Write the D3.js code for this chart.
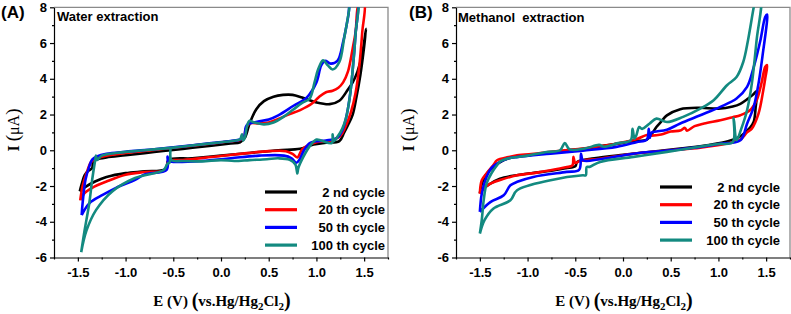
<!DOCTYPE html>
<html>
<head>
<meta charset="utf-8">
<script src="https://cdn.jsdelivr.net/npm/d3@7"></script>
<style>
  body { margin: 0; background: #fff; }
  svg { display: block; }
</style>
</head>
<body>
<div id="chart"></div>
<script>

// ---- data (E in V, I in µA), each cycle: anodic sweep then reverse sweep ----
const xTicks = [-1.5, -1.0, -0.5, 0.0, 0.5, 1.0, 1.5];
const xMinorTicks = [-1.75, -1.25, -0.75, -0.25, 0.25, 0.75, 1.25, 1.75];
const yTicks = [-6, -4, -2, 0, 2, 4, 6, 8];
const yMinorTicks = [-5, -3, -1, 1, 3, 5, 7];
const cycleLabels = ["2 nd cycle", "20 th cycle", "50 th cycle", "100 th cycle"];
const panelTitles = ["Water extraction", "Methanol  extraction"];
const panelTags = ["(A)", "(B)"];

const waterCycle2 = [
  [-1.48,-2.3],[-1.46,-1.9],[-1.43,-1.4],[-1.39,-1.15],[-1.35,-1.0],[-1.34,-0.6],[-1.3,-0.5],
  [-1.2,-0.4],[-1.0,-0.28],[-0.7,-0.1],[-0.4,0.08],[-0.1,0.25],[0.1,0.38],[0.2,0.45],[0.25,0.7],
  [0.3,1.5],[0.37,2.3],[0.45,2.75],[0.55,3.0],[0.65,3.1],[0.75,3.1],[0.85,2.95],[1.0,2.68],
  [1.14,2.58],[1.24,2.77],[1.33,3.4],[1.38,3.8],[1.43,4.4],[1.48,5.4],[1.52,6.8],
  [1.5,5.8],[1.46,4.2],[1.42,3.0],[1.38,2.0],[1.33,1.4],[1.29,0.98],[1.24,0.51],[1.1,0.42],
  [0.97,0.32],[0.83,0.08],[0.6,0.0],[0.3,-0.15],[0.0,-0.3],[-0.3,-0.45],[-0.55,-0.55],
  [-0.58,-1.05],[-0.8,-1.18],[-1.0,-1.28],[-1.2,-1.5],[-1.32,-1.75],[-1.42,-2.05],[-1.48,-2.3]
];
const waterCycle20 = [
  [-1.475,-2.8],[-1.45,-2.0],[-1.41,-1.3],[-1.36,-0.65],[-1.3,-0.45],[-1.2,-0.3],[-1.0,-0.15],
  [-0.7,0.02],[-0.4,0.2],[-0.1,0.38],[0.1,0.5],[0.2,0.58],[0.24,0.7],[0.26,1.2],[0.3,1.5],
  [0.4,1.5],[0.5,1.55],[0.6,1.75],[0.7,1.98],[0.83,2.25],[0.95,2.6],[1.03,3.0],[1.1,3.25],
  [1.17,3.33],[1.23,3.5],[1.28,3.8],[1.33,4.4],[1.38,5.7],[1.41,6.6],[1.45,8.3],
  [1.5,8.3],[1.48,6.6],[1.45,4.75],[1.41,3.2],[1.36,2.1],[1.3,1.26],[1.25,0.8],[1.15,0.55],
  [1.0,0.45],[0.92,0.3],[0.85,0.05],[0.8,-0.4],[0.75,-0.2],[0.68,-0.05],[0.5,-0.05],[0.2,-0.2],
  [-0.1,-0.38],[-0.4,-0.55],[-0.55,-0.6],[-0.58,-1.1],[-0.8,-1.22],[-1.0,-1.37],[-1.2,-1.75],
  [-1.35,-2.1],[-1.43,-2.4],[-1.475,-2.8]
];
const waterCycle50 = [
  [-1.46,-3.63],[-1.45,-2.95],[-1.42,-1.65],[-1.38,-0.9],[-1.35,-0.52],[-1.3,-0.35],[-1.2,-0.2],
  [-1.0,-0.08],[-0.7,0.06],[-0.4,0.22],[-0.1,0.4],[0.1,0.52],[0.2,0.6],[0.24,0.75],[0.26,1.3],
  [0.28,1.45],[0.38,1.6],[0.5,1.72],[0.6,1.95],[0.76,2.49],[0.9,2.96],[1.0,3.8],[1.05,4.75],
  [1.09,5.0],[1.15,4.85],[1.22,5.0],[1.28,6.07],[1.33,7.4],[1.37,8.5],
  [1.43,8.5],[1.41,6.5],[1.38,4.5],[1.35,3.0],[1.31,1.8],[1.27,1.1],[1.22,0.7],[1.1,0.55],
  [1.0,0.5],[0.93,0.4],[0.87,0.0],[0.82,-0.55],[0.79,-0.7],[0.74,-0.45],[0.66,-0.3],[0.4,-0.3],
  [0.1,-0.45],[-0.2,-0.6],[-0.5,-0.65],[-0.55,-0.6],[-0.56,-0.35],[-0.57,-1.1],[-0.8,-1.35],
  [-0.9,-1.65],[-1.1,-2.1],[-1.24,-2.5],[-1.38,-2.97],[-1.46,-3.63]
];
const waterCycle100 = [
  [-1.465,-5.7],[-1.43,-4.5],[-1.38,-2.95],[-1.35,-1.65],[-1.32,-0.6],[-1.31,-0.3],[-1.3,-0.55],
  [-1.25,-0.3],[-1.1,-0.15],[-0.8,0.0],[-0.5,0.15],[-0.2,0.33],[0.0,0.45],[0.15,0.55],[0.2,0.62],
  [0.22,0.9],[0.23,0.55],[0.25,0.7],[0.27,1.3],[0.3,1.65],[0.35,1.55],[0.45,1.45],[0.55,1.55],
  [0.65,1.85],[0.75,2.25],[0.85,2.65],[0.93,2.9],[0.98,3.8],[1.02,4.56],[1.07,5.03],[1.12,4.75],
  [1.17,4.52],[1.24,4.94],[1.29,6.25],[1.34,7.76],[1.36,8.5],
  [1.43,8.5],[1.41,6.5],[1.38,4.5],[1.35,3.0],[1.31,1.8],[1.27,1.2],[1.22,0.75],[1.18,0.5],
  [1.17,0.9],[1.16,0.4],[1.05,0.55],[1.0,0.6],[0.93,0.23],[0.86,-0.4],[0.81,-1.0],[0.8,-1.3],
  [0.78,-0.8],[0.72,-0.53],[0.6,-0.45],[0.48,-0.5],[0.3,-0.55],[0.14,-0.6],[0.0,-0.55],
  [-0.2,-0.62],[-0.4,-0.6],[-0.52,-0.55],[-0.53,0.1],[-0.54,-0.7],[-0.56,-0.75],[-0.6,-1.1],
  [-0.9,-1.55],[-1.14,-2.3],[-1.31,-3.35],[-1.41,-4.5],[-1.465,-5.7]
];

const methanolCycle2 = [
  [-1.5,-2.4],[-1.48,-1.9],[-1.45,-1.5],[-1.41,-1.2],[-1.36,-0.95],[-1.3,-0.7],[-1.2,-0.45],
  [-1.0,-0.28],[-0.7,-0.08],[-0.4,0.1],[-0.1,0.33],[0.1,0.5],[0.25,0.6],[0.3,0.9],[0.35,1.3],
  [0.4,1.6],[0.46,1.95],[0.6,2.3],[0.8,2.38],[1.0,2.33],[1.15,2.45],[1.23,2.6],[1.3,2.85],
  [1.36,3.1],[1.4,3.3],
  [1.39,2.4],[1.37,1.6],[1.33,1.25],[1.28,1.0],[1.22,0.75],[1.1,0.5],[0.9,0.3],[0.6,0.1],
  [0.3,-0.08],[0.0,-0.25],[-0.3,-0.45],[-0.48,-0.65],[-0.5,-0.9],[-0.6,-1.0],[-0.75,-1.15],
  [-0.95,-1.27],[-1.1,-1.38],[-1.29,-1.59],[-1.4,-1.9],[-1.47,-2.2],[-1.5,-2.4]
];
const methanolCycle20 = [
  [-1.5,-2.43],[-1.48,-1.68],[-1.43,-1.3],[-1.36,-0.84],[-1.32,-0.56],[-1.2,-0.38],[-1.11,-0.28],
  [-0.9,-0.18],[-0.76,-0.09],[-0.6,0.0],[-0.42,0.09],[-0.2,0.25],[-0.07,0.37],[0.14,0.62],
  [0.25,0.85],[0.3,0.82],[0.4,0.88],[0.5,1.05],[0.6,1.1],[0.65,1.25],[0.67,1.1],[0.75,1.35],
  [0.85,1.5],[1.02,1.68],[1.15,1.85],[1.23,1.96],[1.33,2.24],[1.4,2.8],[1.45,3.73],[1.49,4.66],
  [1.51,4.76],
  [1.49,4.0],[1.47,3.36],[1.42,2.05],[1.35,1.21],[1.3,1.0],[1.23,0.6],[1.1,0.4],[0.81,0.15],
  [0.5,0.0],[0.11,-0.19],[-0.24,-0.47],[-0.45,-0.6],[-0.5,-0.7],[-0.52,-0.37],[-0.53,-0.85],
  [-0.6,-0.95],[-0.76,-1.12],[-0.9,-1.25],[-1.11,-1.4],[-1.25,-1.6],[-1.39,-1.87],[-1.46,-2.15],
  [-1.5,-2.43]
];
const methanolCycle50 = [
  [-1.5,-3.45],[-1.48,-2.43],[-1.43,-1.49],[-1.38,-1.0],[-1.32,-0.75],[-1.2,-0.45],[-1.1,-0.37],
  [-0.76,-0.19],[-0.42,-0.02],[-0.07,0.19],[0.14,0.45],[0.25,0.6],[0.27,1.2],[0.28,0.7],
  [0.3,1.0],[0.35,1.05],[0.46,1.15],[0.6,1.5],[0.81,1.96],[1.02,2.43],[1.19,2.9],[1.3,3.55],
  [1.37,4.66],[1.44,6.16],[1.49,7.46],[1.51,7.6],
  [1.51,7.28],[1.47,5.6],[1.42,3.73],[1.37,2.43],[1.3,1.49],[1.23,0.56],[1.0,0.35],[0.81,0.19],
  [0.5,0.0],[0.11,-0.19],[-0.24,-0.5],[-0.42,-0.56],[-0.44,-0.2],[-0.46,-1.1],[-0.59,-1.21],
  [-0.94,-1.49],[-1.1,-1.75],[-1.18,-1.96],[-1.25,-2.52],[-1.39,-2.9],[-1.5,-3.45]
];
const methanolCycle100 = [
  [-1.5,-4.66],[-1.48,-3.9],[-1.46,-2.8],[-1.43,-1.87],[-1.38,-1.3],[-1.32,-0.84],[-1.28,-0.6],
  [-1.2,-0.45],[-1.0,-0.3],[-0.8,-0.1],[-0.66,0.0],[-0.61,0.4],[-0.56,0.05],[-0.4,0.1],
  [-0.25,0.3],[-0.2,0.2],[-0.05,0.4],[0.08,0.55],[0.1,1.2],[0.12,0.65],[0.14,0.84],[0.17,1.3],
  [0.2,1.2],[0.28,1.5],[0.35,1.77],[0.46,1.58],[0.63,1.87],[0.81,2.33],[0.95,2.8],[1.09,3.64],
  [1.19,4.1],[1.26,4.94],[1.31,6.16],[1.37,8.0],[1.39,8.5],
  [1.44,8.5],[1.4,6.16],[1.35,3.73],[1.3,2.24],[1.24,1.21],[1.19,0.56],[1.16,1.8],[1.15,0.45],
  [1.0,0.35],[0.8,0.2],[0.46,-0.09],[0.11,-0.37],[-0.24,-0.65],[-0.35,-0.93],[-0.38,-0.93],
  [-0.39,-1.4],[-0.42,-1.4],[-0.76,-1.68],[-1.11,-2.24],[-1.18,-2.8],[-1.36,-3.27],[-1.45,-3.9],
  [-1.5,-4.66]
];

// ---- layout / style ----
const width = 791, height = 314;
const colors = ["#000000", "#ff0000", "#0000ff", "#138a80"];
const panels = [
  {left: 54, right: 388, series: [waterCycle2, waterCycle20, waterCycle50, waterCycle100],
   legendX: 265, legendY: 192, titleX: 57, titleY: 21, tagX: 1, ylabelX: 13},
  {left: 456, right: 790, series: [methanolCycle2, methanolCycle20, methanolCycle50, methanolCycle100],
   legendX: 660, legendY: 187, titleX: 458, titleY: 22, tagX: 409, ylabelX: 408}
];
const plotTop = 7.3, plotBottom = 257.5;

const svg = d3.select("#chart").append("svg")
    .attr("width", width)
    .attr("height", height);

panels.forEach(function(p, i) {

    let x = d3.scaleLinear().domain([-1.75, 1.75]).range([p.left, p.right]);
    let y = d3.scaleLinear().domain([-6, 8]).range([plotBottom, plotTop]);

    let g = svg.append("g").classed("panel", true);

    // clip so the curves stop at the frame
    g.append("clipPath").attr("id", "clip" + i)
        .append("rect")
        .attr("x", p.left).attr("y", plotTop)
        .attr("width", p.right - p.left).attr("height", plotBottom - plotTop);

    // grey frame on top and right
    g.append("path")
        .attr("d", "M" + p.left + "," + plotTop + "H" + p.right + "V" + plotBottom)
        .attr("fill", "none")
        .attr("stroke", "#8a8a8a")
        .attr("stroke-width", 1.3);

    // curves
    let line = d3.line()
        .x(d => x(d[0]))
        .y(d => y(d[1]))
        .curve(d3.curveCatmullRom.alpha(0.5));

    g.append("g").attr("clip-path", "url(#clip" + i + ")")
        .selectAll("path")
        .data(p.series)
        .enter().append("path")
        .attr("d", line)
        .attr("fill", "none")
        .attr("stroke", (d, k) => colors[k])
        .attr("stroke-width", 2.6)
        .attr("stroke-linejoin", "round");

    // axes
    g.append("g")
        .attr("transform", "translate(0," + plotBottom + ")")
        .call(d3.axisBottom(x).tickValues(xTicks).tickSize(4).tickSizeOuter(0).tickPadding(6)
            .tickFormat(d => d.toFixed(1)));
    g.append("g")
        .attr("transform", "translate(0," + plotBottom + ")")
        .call(d3.axisBottom(x).tickValues(xMinorTicks).tickSize(2).tickFormat(""))
        .select(".domain").remove();

    g.append("g")
        .attr("transform", "translate(" + p.left + ",0)")
        .call(d3.axisLeft(y).tickValues(yTicks).tickSize(4).tickSizeOuter(0).tickPadding(3)
            .tickFormat(d => String(d)));
    g.append("g")
        .attr("transform", "translate(" + p.left + ",0)")
        .call(d3.axisLeft(y).tickValues(yMinorTicks).tickSize(2).tickFormat(""))
        .select(".domain").remove();

    g.selectAll(".tick line, .domain").attr("stroke", "#000").attr("stroke-width", 1.2);
    g.selectAll(".tick text")
        .attr("fill", "#000")
        .style("font-family", "'Liberation Sans', Arial, sans-serif")
        .style("font-weight", "bold")
        .style("font-size", "13px");

    // axis titles
    let xl = g.append("text")
        .attr("x", (p.left + p.right) / 2 + 1)
        .attr("y", 306)
        .attr("text-anchor", "middle")
        .style("font-family", "'Liberation Serif', 'Times New Roman', serif")
        .style("font-weight", "bold")
        .style("font-size", "15px");
    xl.append("tspan").text("E (V) ");
    xl.append("tspan").style("font-size", "20px").attr("dy", 1).text("(");
    xl.append("tspan").attr("dy", -1).text("vs.Hg/Hg");
    xl.append("tspan").attr("dy", 4).style("font-size", "11px").text("2");
    xl.append("tspan").attr("dy", -4).text("Cl");
    xl.append("tspan").attr("dy", 4).style("font-size", "11px").text("2");
    xl.append("tspan").attr("dy", -3).style("font-size", "20px").text(")");

    let yl = g.append("text")
        .attr("transform", "translate(" + (p.ylabelX + 6) + ",130) rotate(-90)")
        .attr("text-anchor", "middle")
        .style("font-family", "'Liberation Serif', 'Times New Roman', serif")
        .style("font-size", "16px");
    yl.append("tspan").style("font-weight", "bold").text("I ");
    yl.append("tspan").style("font-size", "19px").text("(");
    yl.append("tspan").text("\u03bcA");
    yl.append("tspan").style("font-size", "19px").text(")");

    // panel tag and title
    g.append("text")
        .attr("x", p.tagX).attr("y", 18)
        .style("font-family", "'Liberation Sans', Arial, sans-serif")
        .style("font-weight", "bold")
        .style("font-size", "17px")
        .text(panelTags[i]);

    g.append("text")
        .attr("x", p.titleX).attr("y", p.titleY)
        .style("font-family", "'Liberation Sans', Arial, sans-serif")
        .style("font-weight", "bold")
        .style("font-size", "13px")
        .style("white-space", "pre")
        .text(panelTitles[i]);

    // legend
    let legend = g.append("g").classed("legend", true);
    cycleLabels.forEach(function(label, k) {
        let ly = p.legendY + k * 17.7;
        legend.append("line")
            .attr("x1", p.legendX).attr("x2", p.legendX + 32)
            .attr("y1", ly).attr("y2", ly)
            .attr("stroke", colors[k])
            .attr("stroke-width", 3.2);
        legend.append("text")
            .attr("x", p.legendX + 120).attr("y", ly + 4.5)
            .attr("text-anchor", "end")
            .style("font-family", "'Liberation Sans', Arial, sans-serif")
            .style("font-weight", "bold")
            .style("font-size", "13px")
            .text(label);
    });
});

</script>
</body>
</html>
